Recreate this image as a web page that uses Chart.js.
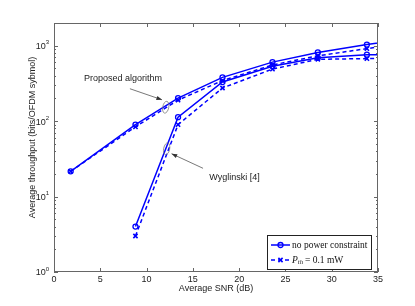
<!DOCTYPE html>
<html>
<head>
<meta charset="utf-8">
<script src="https://cdn.jsdelivr.net/npm/chart.js@4.4.0/dist/chart.umd.min.js"></script>
<style>
  html, body { margin: 0; padding: 0; background: #fff; }
</style>
</head>
<body>
<canvas id="throughputChart" width="415" height="306"></canvas>
<script>
// Data (throughput vs average SNR, log y axis)
const snr = [1.8, 8.8, 13.4, 18.2, 23.6, 28.5, 33.8, 39];
const proposedNoLimit = [21.6, 90, 202, 380, 606, 815, 1035, 1280];
const proposedPth = [21.6, 84, 190, 345, 555, 735, 915, 1120];
const wygSnr = [8.8, 13.4, 18.2, 23.6, 28.5, 33.8, 39];
const wygNoLimit = [4.0, 113, 330, 535, 690, 760, 745];
const wygPth = [3.0, 90, 275, 490, 660, 675, 690];

const xTicks = [0, 5, 10, 15, 20, 25, 30, 35];
const yDecades = [1, 10, 100, 1000];
const yExponents = ['0', '1', '2', '3'];
const legendLabels = ['no power constraint', 'P_th = 0.1 mW'];
const yTitle = 'Average throughput (bits/OFDM sybmol)';

const BLUE = '#0000ff';
const TEXT = '#222';
const SANS = '"Liberation Sans", Arial, sans-serif';
const SERIF = '"Liberation Serif", "DejaVu Serif", serif';

const toXY = (xs, ys) => xs.map((v, i) => ({ x: v, y: ys[i] }));

const solid = (label, data) => ({
  label, data,
  borderColor: BLUE, borderWidth: 1.5,
  pointStyle: 'circle', pointRadius: 2.5, pointBorderWidth: 1.3,
  pointBorderColor: BLUE, pointBackgroundColor: 'rgba(0,0,0,0)',
  tension: 0
});
const dashed = (label, data) => ({
  label, data,
  borderColor: BLUE, borderWidth: 1.5, borderDash: [4, 3],
  pointStyle: 'crossRot', pointRadius: 3, pointBorderWidth: 1.6,
  pointBorderColor: BLUE,
  tension: 0
});

// box, inward ticks, y labels with exponents, annotations, legend
const matlabLook = {
  id: 'matlabLook',
  afterDatasetsDraw(chart) {
    const { ctx, chartArea: a, scales: { x, y } } = chart;
    ctx.save();
    ctx.strokeStyle = '#666';
    ctx.lineWidth = 1;
    ctx.strokeRect(a.left + 0.5, a.top + 0.5, a.width - 1, a.height - 1);

    ctx.beginPath();
    xTicks.forEach(v => {
      const px = Math.round(x.getPixelForValue(v)) + 0.5;
      ctx.moveTo(px, a.bottom); ctx.lineTo(px, a.bottom - 4);
      ctx.moveTo(px, a.top); ctx.lineTo(px, a.top + 4);
    });
    yDecades.forEach(d => {
      for (let m = 1; m <= 9; m++) {
        const v = d * m;
        if (v > y.max) break;
        const py = Math.round(y.getPixelForValue(v)) + 0.5;
        const len = m === 1 ? 4 : 2;
        ctx.moveTo(a.left, py); ctx.lineTo(a.left + len, py);
        ctx.moveTo(a.right, py); ctx.lineTo(a.right - len, py);
      }
    });
    ctx.stroke();

    // y tick labels 10^n
    ctx.fillStyle = TEXT;
    yDecades.forEach((d, i) => {
      const py = y.getPixelForValue(d);
      ctx.font = '6px ' + SANS;
      const ew = ctx.measureText(yExponents[i]).width;
      const baseRight = a.left - 5 - ew;
      ctx.textBaseline = 'middle';
      ctx.textAlign = 'right';
      ctx.font = '9px ' + SANS;
      ctx.fillText('10', baseRight, py + 1);
      ctx.textAlign = 'left';
      ctx.font = '6px ' + SANS;
      ctx.fillText(yExponents[i], baseRight, py - 3);
    });

    // y axis title, a bit above the axis centre as in the figure
    ctx.save();
    ctx.translate(32.5, (a.top + a.bottom) / 2 - 10);
    ctx.rotate(-Math.PI / 2);
    ctx.textAlign = 'center';
    ctx.textBaseline = 'middle';
    ctx.font = '9px ' + SANS;
    ctx.fillText(yTitle, 0, 0);
    ctx.restore();
    ctx.restore();
  },
  afterDraw(chart) {
    const { ctx, chartArea: a, scales: { x, y } } = chart;
    ctx.save();

    // annotations
    const arrow = (x0, y0, x1, y1) => {
      const p0 = [x.getPixelForValue(x0), y.getPixelForValue(y0)];
      const p1 = [x.getPixelForValue(x1), y.getPixelForValue(y1)];
      const ang = Math.atan2(p1[1] - p0[1], p1[0] - p0[0]);
      ctx.strokeStyle = '#555'; ctx.fillStyle = '#333'; ctx.lineWidth = 0.8;
      ctx.beginPath(); ctx.moveTo(p0[0], p0[1]); ctx.lineTo(p1[0], p1[1]); ctx.stroke();
      ctx.beginPath();
      ctx.moveTo(p1[0], p1[1]);
      ctx.lineTo(p1[0] - 6 * Math.cos(ang - 0.35), p1[1] - 6 * Math.sin(ang - 0.35));
      ctx.lineTo(p1[0] - 6 * Math.cos(ang + 0.35), p1[1] - 6 * Math.sin(ang + 0.35));
      ctx.closePath(); ctx.fill();
    };
    const ellipse = (cx, cy) => {
      ctx.strokeStyle = '#777'; ctx.lineWidth = 0.8;
      ctx.beginPath();
      ctx.ellipse(x.getPixelForValue(cx), y.getPixelForValue(cy), 3, 6, 0.2, 0, Math.PI * 2);
      ctx.stroke();
    };
    ellipse(12.07, 153);
    arrow(8.2, 269, 11.67, 192);
    ellipse(12.17, 43);
    arrow(16.1, 23.7, 12.7, 37);

    ctx.fillStyle = TEXT;
    ctx.font = '9px ' + SANS;
    ctx.textAlign = 'center';
    ctx.textBaseline = 'middle';
    ctx.fillText('Proposed algorithm', x.getPixelForValue(7.45), y.getPixelForValue(369));
    ctx.fillText('Wyglinski [4]', x.getPixelForValue(19.5), y.getPixelForValue(18.1));

    // legend box, bottom right inside the axes
    const lw = 104, lh = 34;
    const lx = a.right - 7 - lw, ly = a.bottom - 3 - lh;
    ctx.fillStyle = '#fff';
    ctx.fillRect(lx, ly, lw, lh);
    ctx.strokeStyle = '#222'; ctx.lineWidth = 1;
    ctx.strokeRect(Math.round(lx) + 0.5, Math.round(ly) + 0.5, lw, lh);

    const r1 = ly + 10, r2 = ly + 25;
    ctx.strokeStyle = BLUE; ctx.lineWidth = 1.5;
    ctx.beginPath(); ctx.moveTo(lx + 4, r1); ctx.lineTo(lx + 23, r1); ctx.stroke();
    ctx.lineWidth = 1.3;
    ctx.beginPath(); ctx.arc(lx + 13.5, r1, 2.5, 0, Math.PI * 2); ctx.stroke();
    ctx.lineWidth = 1.5;
    ctx.setLineDash([4, 3]);
    ctx.beginPath(); ctx.moveTo(lx + 4, r2); ctx.lineTo(lx + 23, r2); ctx.stroke();
    ctx.setLineDash([]);
    ctx.lineWidth = 1.6;
    ctx.beginPath();
    ctx.moveTo(lx + 11.4, r2 - 2.1); ctx.lineTo(lx + 15.6, r2 + 2.1);
    ctx.moveTo(lx + 15.6, r2 - 2.1); ctx.lineTo(lx + 11.4, r2 + 2.1);
    ctx.stroke();

    ctx.fillStyle = '#111';
    ctx.textAlign = 'left';
    ctx.textBaseline = 'middle';
    let fs = 10;
    ctx.font = fs + 'px ' + SERIF;
    while (ctx.measureText(legendLabels[0]).width > 77 && fs > 6) {
      fs -= 0.25;
      ctx.font = fs + 'px ' + SERIF;
    }
    const tx = lx + 25;
    ctx.fillText(legendLabels[0], tx, r1);
    // P_th = 0.1 mW with italic P and subscript th
    const [sym, rest] = legendLabels[1].split(' = ');
    const [main, sub] = sym.split('_');
    ctx.font = 'italic ' + fs + 'px ' + SERIF;
    ctx.fillText(main, tx, r2);
    let cx = tx + ctx.measureText(main).width;
    ctx.font = 'italic ' + (fs * 0.7) + 'px ' + SERIF;
    ctx.fillText(sub, cx, r2 + 2.5);
    cx += ctx.measureText(sub).width + 2;
    ctx.font = fs + 'px ' + SERIF;
    ctx.fillText('= ' + rest, cx, r2);

    ctx.restore();
  }
};

new Chart(document.getElementById('throughputChart').getContext('2d'), {
  type: 'line',
  data: {
    datasets: [
      solid(legendLabels[0], toXY(snr, proposedNoLimit)),
      dashed(legendLabels[1], toXY(snr, proposedPth)),
      solid(legendLabels[0], toXY(wygSnr, wygNoLimit)),
      dashed(legendLabels[1], toXY(wygSnr, wygPth))
    ]
  },
  options: {
    responsive: false,
    animation: false,
    devicePixelRatio: 1,
    layout: { padding: { left: 0, top: 23, right: 37, bottom: 0 } },
    scales: {
      x: {
        type: 'linear',
        min: 0,
        max: 35,
        ticks: {
          stepSize: 5,
          maxRotation: 0,
          padding: 2,
          color: TEXT,
          font: { family: SANS, size: 9 }
        },
        grid: { display: false, drawTicks: false },
        border: { display: false },
        title: {
          display: true,
          text: 'Average SNR (dB)',
          color: TEXT,
          font: { family: SANS, size: 9 },
          padding: { top: 0, bottom: 12 }
        },
        afterFit: (scale) => { scale.height = 34; }
      },
      y: {
        type: 'logarithmic',
        min: 1,
        max: 2000,
        ticks: { display: false },
        grid: { display: false, drawTicks: false },
        border: { display: false },
        title: { display: false },
        afterFit: (scale) => { scale.width = 54; }
      }
    },
    plugins: {
      legend: { display: false },
      tooltip: { enabled: false }
    }
  },
  plugins: [matlabLook]
});
</script>
</body>
</html>
